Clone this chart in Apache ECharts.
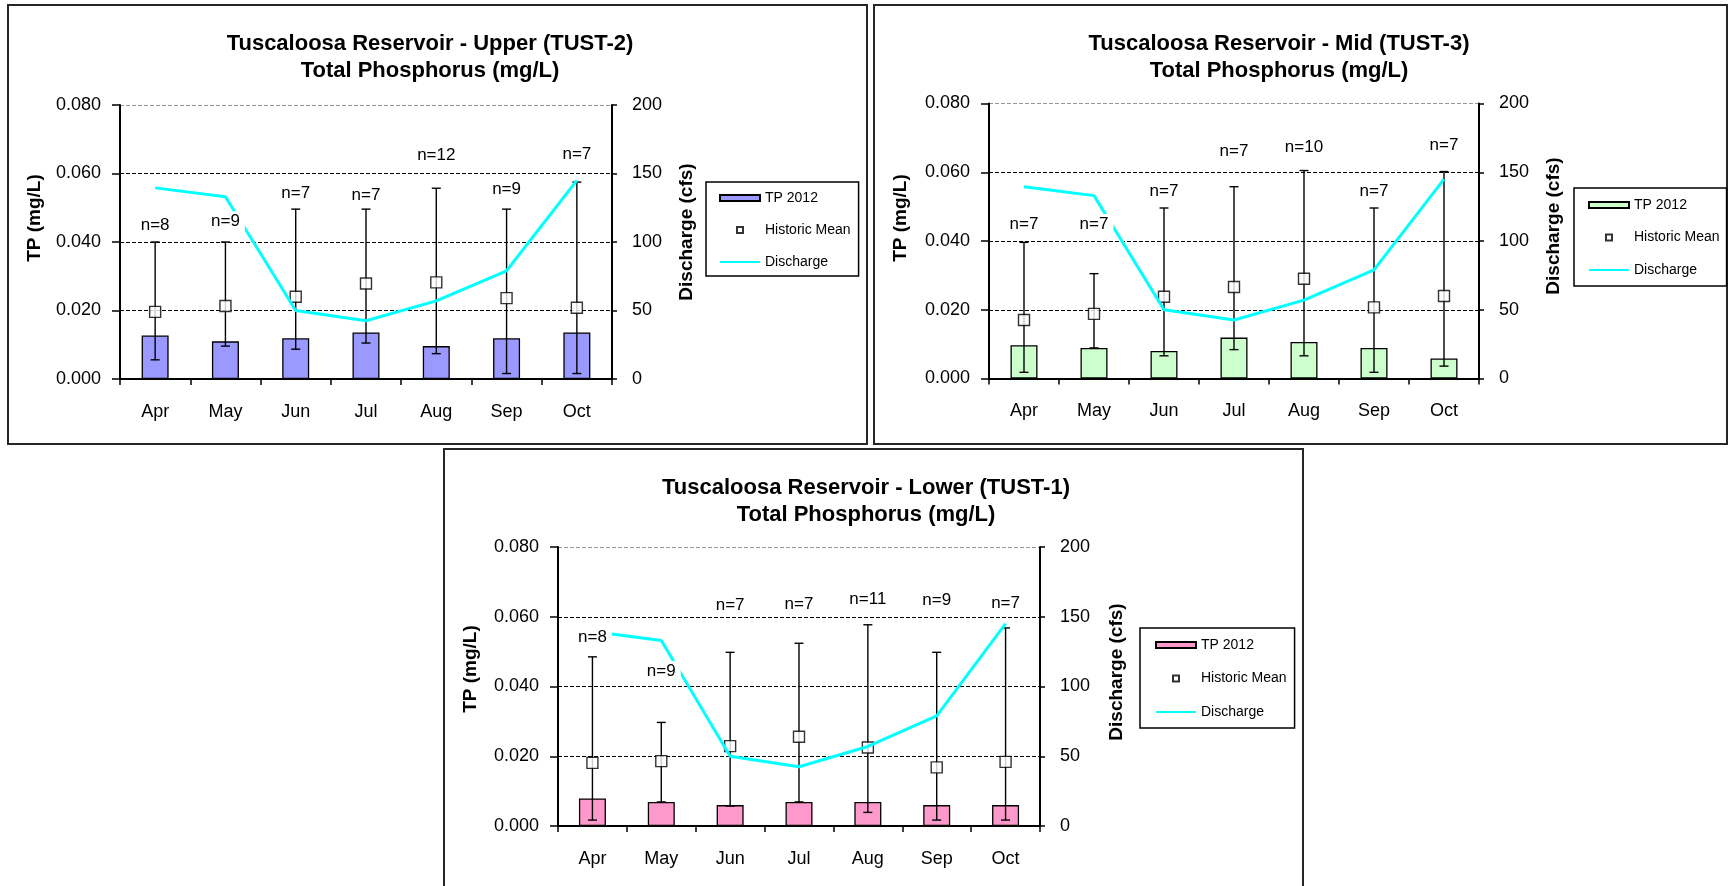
<!DOCTYPE html>
<html><head><meta charset="utf-8">
<script src="https://cdn.jsdelivr.net/npm/echarts@6/dist/echarts.min.js"></script>
<style>html,body{margin:0;padding:0;background:#fff}#c{width:1732px;height:886px}</style>
</head><body><div id="c"></div>
<script>
// ---------- data ----------
const months = ['Apr','May','Jun','Jul','Aug','Sep','Oct'];
const discharge = [139.5, 133, 50, 42.5, 57, 79, 145];   // cfs (right axis)

// Upper (TUST-2)
const upperTP      = [0.0127, 0.0110, 0.0119, 0.0136, 0.0096, 0.0119, 0.0136];
const upperMean    = [0.0196, 0.0213, 0.0240, 0.0279, 0.0282, 0.0236, 0.0208];
const upperLow     = [0.0056, 0.0096, 0.0087, 0.0105, 0.0074, 0.0016, 0.0016];
const upperHigh    = [0.0400, 0.0400, 0.0496, 0.0496, 0.0557, 0.0496, 0.0575];
const upperN       = [8, 9, 7, 7, 12, 9, 7];
const upperNLabelAt= [0.0449, 0.0459, 0.0543, 0.0537, 0.0654, 0.0554, 0.0656];

// Mid (TUST-3)
const midTP      = [0.0097, 0.0089, 0.0080, 0.0119, 0.0106, 0.0089, 0.0058];
const midMean    = [0.0170, 0.0188, 0.0238, 0.0266, 0.0290, 0.0207, 0.0240];
const midLow     = [0.0018, 0.0089, 0.0066, 0.0084, 0.0066, 0.0018, 0.0036];
const midHigh    = [0.0396, 0.0305, 0.0496, 0.0558, 0.0605, 0.0496, 0.0602];
const midN       = [7, 7, 7, 7, 10, 7, 7];
const midNLabelAt= [0.0448, 0.0448, 0.0545, 0.0660, 0.0672, 0.0545, 0.0679];

// Lower (TUST-1)
const lowerTP      = [0.0079, 0.0069, 0.0060, 0.0069, 0.0069, 0.0060, 0.0060];
const lowerMean    = [0.0181, 0.0186, 0.0229, 0.0256, 0.0225, 0.0168, 0.0184];
const lowerLow     = [0.0017, 0.0069, 0.0057, 0.0069, 0.0039, 0.0017, 0.0017];
const lowerHigh    = [0.0485, 0.0297, 0.0498, 0.0524, 0.0577, 0.0498, 0.0568];
const lowerN       = [8, 9, 7, 7, 11, 9, 7];
const lowerNLabelAt= [0.0541, 0.0443, 0.0633, 0.0637, 0.0651, 0.0646, 0.0639];

const tpAxis = {min: 0, max: 0.08, interval: 0.02};
const qAxis  = {min: 0, max: 200, interval: 50};

// ---------- layout / style ----------
const FONT = '"Liberation Sans", Arial, sans-serif';
const SQUARE_ICON = 'path://M0,0L10,0L10,10L0,10Z';
const LINE_ICON = 'path://M0,0L40,0L40,2L0,2Z';
const panels = [
  {title: 'Tuscaloosa Reservoir - Upper (TUST-2)', color: '#9999FF',
   tp: upperTP, mean: upperMean, low: upperLow, high: upperHigh, n: upperN, nAt: upperNLabelAt,
   grid: {left: 120, top: 105, width: 492, height: 274},
   border: {x: 8, y: 5, w: 859, h: 439}, titleX: 430, titleY: 30.5,
   tpName: [35, 218], qName: [687, 232],
   legend: {left: 706, top: 182, padding: [9, 8, 7, 13], gap: 18}},
  {title: 'Tuscaloosa Reservoir - Mid (TUST-3)', color: '#CCFFCC',
   tp: midTP, mean: midMean, low: midLow, high: midHigh, n: midN, nAt: midNLabelAt,
   grid: {left: 989, top: 103.5, width: 490, height: 275},
   border: {x: 874, y: 5, w: 853, h: 439}, titleX: 1279, titleY: 30.5,
   tpName: [901, 218], qName: [1554, 226],
   legend: {left: 1574, top: 188, padding: [10, 7, 9, 14], gap: 18.5}},
  {title: 'Tuscaloosa Reservoir - Lower (TUST-1)', color: '#FF99CC',
   tp: lowerTP, mean: lowerMean, low: lowerLow, high: lowerHigh, n: lowerN, nAt: lowerNLabelAt,
   grid: {left: 558, top: 547, width: 482, height: 279},
   border: {x: 444, y: 449, w: 859, h: 460}, titleX: 866, titleY: 474,
   tpName: [471, 669], qName: [1117, 672],
   legend: {left: 1140, top: 628, padding: [10, 8, 9, 15], gap: 19.5}}
];

const grids = [], xAxes = [], yAxes = [], series = [], legends = [], graphics = [];

panels.forEach((p, k) => {
  grids.push(Object.assign({containLabel: false, outerBoundsMode: 'none'}, p.grid));
  xAxes.push({
    type: 'category', gridIndex: k, data: months, boundaryGap: true,
    axisLine: {lineStyle: {color: '#000', width: 2}},
    axisTick: {show: true, length: 6, inside: false, lineStyle: {color: '#000', width: 1.5}},
    axisLabel: {color: '#000', fontSize: 18, fontFamily: FONT, margin: 24, interval: 0},
    splitLine: {show: false}
  });
  yAxes.push({
    type: 'value', gridIndex: k, position: 'left',
    min: tpAxis.min, max: tpAxis.max, interval: tpAxis.interval,
    axisLine: {show: true, lineStyle: {color: '#000', width: 2}},
    axisTick: {show: true, length: 8, inside: false, lineStyle: {color: '#000', width: 1.5}},
    axisLabel: {color: '#000', fontSize: 18, fontFamily: FONT, margin: 19,
                formatter: v => v.toFixed(3)},
    splitLine: {show: true, lineStyle: {color: ['#000', '#000', '#000', '#000', '#999'],
                width: 1.2, type: [4, 2]}}
  });
  yAxes.push({
    type: 'value', gridIndex: k, position: 'right',
    min: qAxis.min, max: qAxis.max, interval: qAxis.interval,
    axisLine: {show: true, lineStyle: {color: '#000', width: 2}},
    axisTick: {show: true, length: 5, inside: false, lineStyle: {color: '#000', width: 1.5}},
    axisLabel: {color: '#000', fontSize: 18, fontFamily: FONT, margin: 20},
    splitLine: {show: false}
  });

  const lIdx = 2 * k, rIdx = 2 * k + 1;
  series.push({
    type: 'bar', name: 'TP 2012#' + k, xAxisIndex: k, yAxisIndex: lIdx,
    data: p.tp, barWidth: 27,
    itemStyle: {color: p.color, borderColor: '#000', borderWidth: 1.3},
    z: 2
  });
  series.push({
    type: 'custom', name: 'range#' + k, xAxisIndex: k, yAxisIndex: lIdx,
    data: p.low.map((l, i) => [i, l, p.high[i]]),
    encode: {x: 0, y: [1, 2]},
    renderItem: (params, api) => {
      const a = api.coord([api.value(0), api.value(1)]);
      const b = api.coord([api.value(0), api.value(2)]);
      const cx = a[0], w = 4.5;
      const st = {stroke: '#000', lineWidth: 1.4};
      return {type: 'group', children: [
        {type: 'line', shape: {x1: cx, y1: a[1], x2: cx, y2: b[1]}, style: st},
        {type: 'line', shape: {x1: cx - w, y1: b[1], x2: cx + w, y2: b[1]}, style: st},
        {type: 'line', shape: {x1: cx - w, y1: a[1], x2: cx + w, y2: a[1]}, style: st}
      ]};
    },
    z: 3
  });
  series.push({
    type: 'scatter', name: 'Historic Mean#' + k, xAxisIndex: k, yAxisIndex: lIdx,
    data: p.mean, symbol: 'rect', symbolSize: 11,
    itemStyle: {color: '#fff', borderColor: '#000', borderWidth: 1.4},
    z: 4
  });
  series.push({
    type: 'line', name: 'Discharge#' + k, xAxisIndex: k, yAxisIndex: rIdx,
    data: discharge, symbol: 'none', showSymbol: false,
    lineStyle: {color: '#00FFFF', width: 3}, itemStyle: {color: '#00FFFF'},
    z: 5
  });
  series.push({
    type: 'custom', name: 'n#' + k, xAxisIndex: k, yAxisIndex: lIdx,
    data: p.nAt.map((y, i) => [i, y, p.n[i]]),
    encode: {x: 0, y: 1},
    renderItem: (params, api) => {
      const c = api.coord([api.value(0), api.value(1)]);
      return {type: 'text', x: c[0], y: c[1], style: {
        text: 'n=' + api.value(2), align: 'center', verticalAlign: 'middle',
        fontSize: 17, fontFamily: FONT, fill: '#000',
        backgroundColor: '#fff', padding: [2, 5]}};
    },
    z: 6
  });

  legends.push({
    orient: 'vertical', left: p.legend.left, top: p.legend.top,
    padding: p.legend.padding, itemGap: p.legend.gap,
    itemWidth: 40, itemHeight: 6, selectedMode: false, symbolKeepAspect: true,
    borderColor: '#000', borderWidth: 1.5, backgroundColor: '#fff',
    textStyle: {color: '#000', fontSize: 14, fontFamily: FONT},
    formatter: name => name.replace(/#\d+$/, ''),
    data: [
      {name: 'TP 2012#' + k, icon: 'rect'},
      {name: 'Historic Mean#' + k, icon: SQUARE_ICON},
      {name: 'Discharge#' + k, icon: LINE_ICON, itemStyle: {color: '#00FFFF', borderWidth: 0}}
    ]
  });

  graphics.push({type: 'rect', shape: {x: p.border.x, y: p.border.y, width: p.border.w, height: p.border.h},
                 style: {fill: 'none', stroke: '#262626', lineWidth: 2}, z: 0, silent: true});
  graphics.push({type: 'text', x: p.titleX, y: p.titleY, style: {
    text: p.title + '\nTotal Phosphorus (mg/L)', align: 'center', verticalAlign: 'top',
    fontSize: 22, fontWeight: 'bold', fontFamily: FONT, lineHeight: 27, fill: '#000'}});
  graphics.push({type: 'text', x: p.tpName[0], y: p.tpName[1], rotation: Math.PI / 2, style: {
    text: 'TP (mg/L)', align: 'center', verticalAlign: 'middle',
    fontSize: 19, fontWeight: 'bold', fontFamily: FONT, fill: '#000'}});
  graphics.push({type: 'text', x: p.qName[0], y: p.qName[1], rotation: Math.PI / 2, style: {
    text: 'Discharge (cfs)', align: 'center', verticalAlign: 'middle',
    fontSize: 19, fontWeight: 'bold', fontFamily: FONT, fill: '#000'}});
});

const chart = echarts.init(document.getElementById('c'), null, {renderer: 'canvas'});
chart.setOption({
  animation: false,
  backgroundColor: '#fff',
  grid: grids, xAxis: xAxes, yAxis: yAxes, series: series, legend: legends,
  graphic: graphics
});
</script></body></html>
